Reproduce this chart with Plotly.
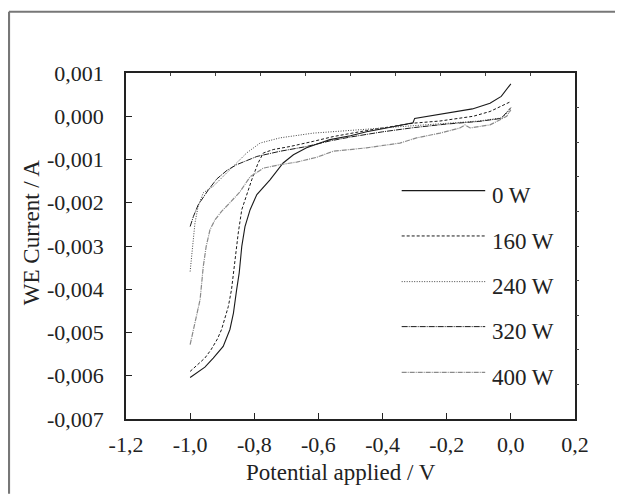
import plotly.graph_objects as go

# ---------------- data ----------------
x_0w = [-1.0, -0.954, -0.928, -0.897, -0.876, -0.865, -0.855, -0.847, -0.839, -0.829, -0.813, -0.792,
        -0.751, -0.710, -0.678, -0.637, -0.595, -0.564, -0.50, -0.45, -0.40, -0.35, -0.315, -0.305,
        -0.30, -0.22, -0.12, -0.065, -0.03, 0.0]
y_0w = [-0.00604, -0.00580, -0.00559, -0.00532, -0.00493, -0.00455, -0.00401, -0.00362, -0.00301,
        -0.00255, -0.00216, -0.00181, -0.00147, -0.00108, -0.00089, -0.00073, -0.00062, -0.00054,
        -0.00045, -0.00036, -0.00029, -0.00022, -0.00017, -0.00015, -0.00005, 0.00004, 0.00017,
        0.00030, 0.00046, 0.00075]

x_160w = [-1.0, -0.969, -0.954, -0.935, -0.915, -0.902, -0.881, -0.871, -0.860, -0.850, -0.839, -0.824,
          -0.808, -0.788, -0.772, -0.741, -0.689, -0.616, -0.554, -0.45, -0.346, -0.304, -0.221,
          -0.117, -0.065, -0.013, 0.0]
y_160w = [-0.0059, -0.0057, -0.00559, -0.0054, -0.00515, -0.00493, -0.0044, -0.00401, -0.00324,
          -0.0027, -0.00216, -0.0018, -0.00147, -0.00108, -0.00085, -0.00077, -0.0007, -0.00058,
          -0.00047, -0.00033, -0.00022, -0.00016, -0.00011, 0.0, 0.00011, 0.0003, 0.00034]

x_240w = [-1.0, -0.995, -0.99, -0.985, -0.975, -0.959, -0.928, -0.876, -0.824, -0.782, -0.72, -0.616,
          -0.554, -0.45, -0.40, -0.3, -0.2, -0.1, -0.03, 0.0]
y_240w = [-0.00359, -0.00324, -0.00285, -0.00247, -0.00208, -0.00177, -0.00162, -0.00124, -0.00085,
          -0.00062, -0.0005, -0.00039, -0.00035, -0.0003, -0.00027, -0.00022, -0.00016, -0.00011,
          -0.00004, 0.00015]

x_320w = [-1.0, -0.99, -0.975, -0.954, -0.943, -0.917, -0.885, -0.855, -0.792, -0.72, -0.637, -0.564,
          -0.5, -0.4, -0.3, -0.2, -0.1, -0.03, 0.0]
y_320w = [-0.00255, -0.00232, -0.00205, -0.00181, -0.0017, -0.00145, -0.00125, -0.00112, -0.00093,
          -0.00081, -0.0007, -0.00057, -0.00048, -0.00036, -0.00026, -0.00018, -0.00012, -0.00005,
          0.0002]

x_400w = [-1.0, -0.99, -0.98, -0.969, -0.964, -0.959, -0.95, -0.938, -0.922, -0.902, -0.876, -0.845,
          -0.813, -0.772, -0.72, -0.668, -0.606, -0.554, -0.502, -0.45, -0.346, -0.294, -0.221,
          -0.159, -0.143, -0.127, -0.065, -0.013, 0.0]
y_400w = [-0.00528, -0.00493, -0.00463, -0.00424, -0.00386, -0.00347, -0.00301, -0.00262, -0.00239,
          -0.0022, -0.002, -0.00175, -0.0014, -0.0012, -0.00112, -0.00106, -0.00095, -0.00081,
          -0.00077, -0.00073, -0.00062, -0.0005, -0.00039, -0.00027, -0.0002, -0.00027, -0.0002,
          0.0, 0.00015]

series_names = ["0 W", "160 W", "240 W", "320 W", "400 W"]

x_tickvals = [-1.2, -1.0, -0.8, -0.6, -0.4, -0.2, 0.0, 0.2]
x_ticktext = ["-1,2", "-1,0", "-0,8", "-0,6", "-0,4", "-0,2", "0,0", "0,2"]
y_tickvals = [0.001, 0.0, -0.001, -0.002, -0.003, -0.004, -0.005, -0.006, -0.007]
y_ticktext = ["0,001", "0,000", "-0,001", "-0,002", "-0,003", "-0,004", "-0,005", "-0,006", "-0,007"]

# ---------------- styling ----------------
FONT = "Liberation Serif"
TXT = "#222222"
styles = [
    dict(color="#1a1a1a", width=1.1, dash="solid"),
    dict(color="#1a1a1a", width=1.0, dash="3px,2px"),
    dict(color="#444444", width=1.0, dash="1px,1.5px"),
    dict(color="#1a1a1a", width=1.0, dash="6px,1px,1px,1px"),
    dict(color="#8a8a8a", width=1.2, dash="5px,1px,1px,1px"),
]
xs = [x_0w, x_160w, x_240w, x_320w, x_400w]
ys = [y_0w, y_160w, y_240w, y_320w, y_400w]

fig = go.Figure()
for name, x, y, st in zip(series_names, xs, ys, styles):
    fig.add_trace(go.Scatter(x=x, y=y, mode="lines", name=name, line=st,
                             showlegend=False, hoverinfo="skip"))

# invisible trace to carry the secondary (tick-only) axes
fig.add_trace(go.Scatter(x=[None], y=[None], xaxis="x2", yaxis="y2",
                         showlegend=False, hoverinfo="skip"))

# manual legend (long line samples, as in the original)
leg_line_y = [0.660, 0.529, 0.397, 0.267, 0.135]
leg_text_y = [0.647, 0.513, 0.383, 0.252, 0.119]
shapes = []
annotations = []
for name, st, ly, ty in zip(series_names, styles, leg_line_y, leg_text_y):
    shapes.append(dict(type="line", xref="paper", yref="paper", x0=0.614, x1=0.80,
                       y0=ly, y1=ly, line=st))
    annotations.append(dict(text=name, xref="paper", yref="paper", x=0.81, y=ty,
                            xanchor="left", yanchor="middle", showarrow=False,
                            font=dict(family=FONT, size=23, color=TXT)))

# outer frame: only the left and top edges fall inside the picture
# (kept inside the figure so the page does not overflow)
shapes.append(dict(type="line", xref="paper", yref="paper", x0=-0.2606, x1=-0.2606,
                   y0=-0.216, y1=1.177, line=dict(color="#777777", width=2.2), layer="above"))
shapes.append(dict(type="line", xref="paper", yref="paper", x0=-0.2606, x1=1.105,
                   y0=1.177, y1=1.177, line=dict(color="#777777", width=2.2), layer="above"))

# axis titles
annotations.append(dict(text="Potential applied / V", xref="paper", yref="paper",
                        x=0.478, y=-0.155, xanchor="center", yanchor="middle",
                        showarrow=False, font=dict(family=FONT, size=23, color=TXT)))
annotations.append(dict(text="WE Current / A", xref="paper", yref="paper",
                        x=-0.21, y=0.539, xanchor="center", yanchor="middle", textangle=-90,
                        showarrow=False, font=dict(family=FONT, size=23, color=TXT)))

fig.update_layout(
    width=615, height=486,
    margin=dict(l=118, r=48, t=65, b=75),
    paper_bgcolor="white", plot_bgcolor="white",
    showlegend=False,
    font=dict(family=FONT, size=22, color=TXT),
    xaxis=dict(range=[-1.2, 0.2], tickvals=x_tickvals, ticktext=x_ticktext,
               ticks="inside", ticklen=6, tickwidth=1, tickcolor="#222",
               showline=True, linecolor="#222", linewidth=1.5, mirror=True,
               showgrid=False, zeroline=False, ticklabelstandoff=5,
               tickfont=dict(family=FONT, size=22, color=TXT)),
    yaxis=dict(range=[-0.007, 0.001], tickvals=y_tickvals, ticktext=y_ticktext,
               ticks="inside", ticklen=6, tickwidth=1, tickcolor="#222",
               showline=True, linecolor="#222", linewidth=1.5, mirror=True,
               showgrid=False, zeroline=False, ticklabelstandoff=16,
               tickfont=dict(family=FONT, size=22, color=TXT)),
    xaxis2=dict(overlaying="x", side="top", range=[0, 1],
                tickvals=[0.1, 0.2, 0.3, 0.4, 0.5, 0.6, 0.7, 0.8, 0.9],
                showticklabels=False, ticks="inside", ticklen=3, tickcolor="#444",
                showline=False, showgrid=False, zeroline=False),
    yaxis2=dict(overlaying="y", side="right", range=[0, 1],
                tickvals=[0.1, 0.2, 0.3, 0.4, 0.5, 0.6, 0.7, 0.8, 0.9],
                showticklabels=False, ticks="outside", ticklen=3, tickcolor="#444",
                showline=False, showgrid=False, zeroline=False),
    shapes=shapes,
    annotations=annotations,
)

fig.write_html("out.html")
